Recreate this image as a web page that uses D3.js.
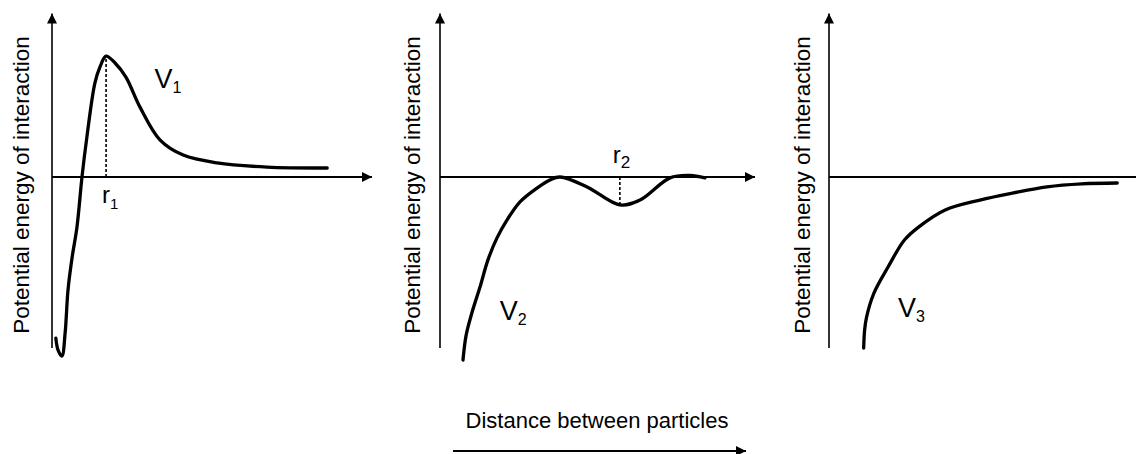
<!DOCTYPE html>
<html>
<head>
<meta charset="utf-8">
<script src="https://cdn.jsdelivr.net/npm/d3@7/dist/d3.min.js"></script>
<style>
  html, body { margin: 0; padding: 0; background: #fff; }
  svg { display: block; }
  text { font-family: "Liberation Sans", Arial, Helvetica, sans-serif; fill: #000; }
</style>
</head>
<body>
<svg id="chart" width="1136" height="454"></svg>
<script>
// Shared labels
const yAxisTitle = "Potential energy of interaction";
const xAxisTitle = "Distance between particles";
const curveNames = ["V", "V", "V"];
const curveSubs = ["1", "2", "3"];
const markerNames = ["r", "r"];
const markerSubs = ["1", "2"];

// V1: repulsive barrier with a deep well close in
const v1Distance = [0.12, 0.19, 0.31, 0.41, 0.5, 0.63, 0.78, 0.94, 1.09, 1.34, 1.5, 1.69, 1.97, 2.31, 2.75, 3.38, 4.1, 5.16, 6.72, 8.6];
const v1Energy   = [-5.37, -5.77, -5.97, -5.2, -3.77, -2.67, -1.67, 0.03, 1.33, 3.13, 3.67, 4.03, 3.8, 3.33, 2.33, 1.23, 0.73, 0.47, 0.33, 0.3];

// V2: attractive curve with a secondary minimum
const v2Distance = [0.73, 0.83, 1.02, 1.27, 1.52, 1.81, 2.13, 2.54, 3.08, 3.49, 3.81, 4.67, 5.71, 6.35, 7.3, 7.94, 8.41];
const v2Energy   = [-6.1, -5.27, -4.5, -3.67, -2.77, -2.03, -1.43, -0.83, -0.37, -0.1, 0.0, -0.33, -0.93, -0.77, -0.03, 0.05, -0.03];

// V3: purely attractive curve
const v3Distance = [1.08, 1.11, 1.17, 1.4, 1.84, 2.35, 2.79, 3.62, 4.7, 5.75, 6.79, 7.87, 8.98];
const v3Energy   = [-5.7, -5.1, -4.67, -3.87, -3.0, -2.1, -1.67, -1.1, -0.77, -0.53, -0.33, -0.23, -0.2];

// Marked distances: barrier top of V1, secondary minimum of V2
const r1Index = 11;
const r2Index = 12;

const svg = d3.select("#chart");

const defs = svg.append("defs");
defs.append("marker")
  .attr("id", "arrow")
  .attr("viewBox", "0 0 10 10")
  .attr("refX", 10).attr("refY", 5)
  .attr("markerWidth", 11).attr("markerHeight", 10)
  .attr("markerUnits", "userSpaceOnUse")
  .attr("orient", "auto")
  .append("path")
  .attr("d", "M0,0 L10,5 L0,10 Z")
  .attr("fill", "#000");

const panels = [
  { left: 52,  right: 372, dist: v1Distance, energy: v1Energy, titleX: 29,  label: { x: 3.2, y: 2.97 } },
  { left: 440, right: 755, dist: v2Distance, energy: v2Energy, titleX: 420, label: { x: 1.9, y: -4.77 } },
  { left: 829, right: 1150, dist: v3Distance, energy: v3Energy, titleX: 810, label: { x: 2.15, y: -4.67 } }
];

const line = d3.line().curve(d3.curveCatmullRom.alpha(0.5));

panels.forEach((p, i) => {
  const x = d3.scaleLinear().domain([0, 10]).range([p.left, p.right]);
  const y = d3.scaleLinear().domain([-6, 5.5]).range([357, 12]);
  const g = svg.append("g");

  // distance axis
  g.append("line")
    .attr("x1", x(0)).attr("x2", x(10))
    .attr("y1", y(0)).attr("y2", y(0))
    .attr("stroke", "#000").attr("stroke-width", 2)
    .attr("marker-end", "url(#arrow)");

  // energy axis
  g.append("line")
    .attr("x1", x(0)).attr("x2", x(0))
    .attr("y1", y(-5.7)).attr("y2", y(5.45))
    .attr("stroke", "#000").attr("stroke-width", 1.6)
    .attr("marker-end", "url(#arrow)");

  // energy title
  g.append("text")
    .attr("transform", `translate(${p.titleX},185) rotate(-90)`)
    .attr("text-anchor", "middle")
    .attr("font-size", 22.5)
    .text(yAxisTitle);

  // potential curve
  const pts = p.dist.map((d, k) => [x(d), y(p.energy[k])]);
  g.append("path")
    .attr("d", line(pts))
    .attr("fill", "none")
    .attr("stroke", "#000")
    .attr("stroke-width", 3.3)
    .attr("stroke-linejoin", "round")
    .attr("stroke-linecap", "round");

  // curve name
  const t = g.append("text")
    .attr("x", x(p.label.x)).attr("y", y(p.label.y))
    .attr("font-size", 27);
  t.append("tspan").text(curveNames[i]);
  t.append("tspan").attr("dy", 5).attr("font-size", 16).text(curveSubs[i]);

  p.x = x; p.y = y; p.g = g;
});

// r1 at the V1 barrier top
{
  const p = panels[0];
  const d = v1Distance[r1Index], e = v1Energy[r1Index];
  p.g.append("line")
    .attr("x1", p.x(d)).attr("x2", p.x(d))
    .attr("y1", p.y(0)).attr("y2", p.y(e))
    .attr("stroke", "#000").attr("stroke-width", 1.6)
    .attr("stroke-dasharray", "3,2");
  const t = p.g.append("text")
    .attr("x", p.x(d) - 4).attr("y", p.y(0) + 26)
    .attr("font-size", 24);
  t.append("tspan").text(markerNames[0]);
  t.append("tspan").attr("dy", 6).attr("font-size", 15).text(markerSubs[0]);
}

// r2 at the V2 secondary minimum
{
  const p = panels[1];
  const d = v2Distance[r2Index], e = v2Energy[r2Index];
  p.g.append("line")
    .attr("x1", p.x(d)).attr("x2", p.x(d))
    .attr("y1", p.y(0)).attr("y2", p.y(e))
    .attr("stroke", "#000").attr("stroke-width", 1.6)
    .attr("stroke-dasharray", "3,2");
  const t = p.g.append("text")
    .attr("x", p.x(d) - 7).attr("y", p.y(0) - 14)
    .attr("font-size", 24);
  t.append("tspan").text(markerNames[1]);
  t.append("tspan").attr("dy", 5).attr("font-size", 17).text(markerSubs[1]);
}

// shared distance title and arrow
svg.append("text")
  .attr("x", 597).attr("y", 428)
  .attr("text-anchor", "middle")
  .attr("font-size", 22)
  .text(xAxisTitle);
svg.append("line")
  .attr("x1", 453).attr("x2", 746)
  .attr("y1", 451).attr("y2", 451)
  .attr("stroke", "#000").attr("stroke-width", 2)
  .attr("marker-end", "url(#arrow)");
</script>
</body>
</html>
